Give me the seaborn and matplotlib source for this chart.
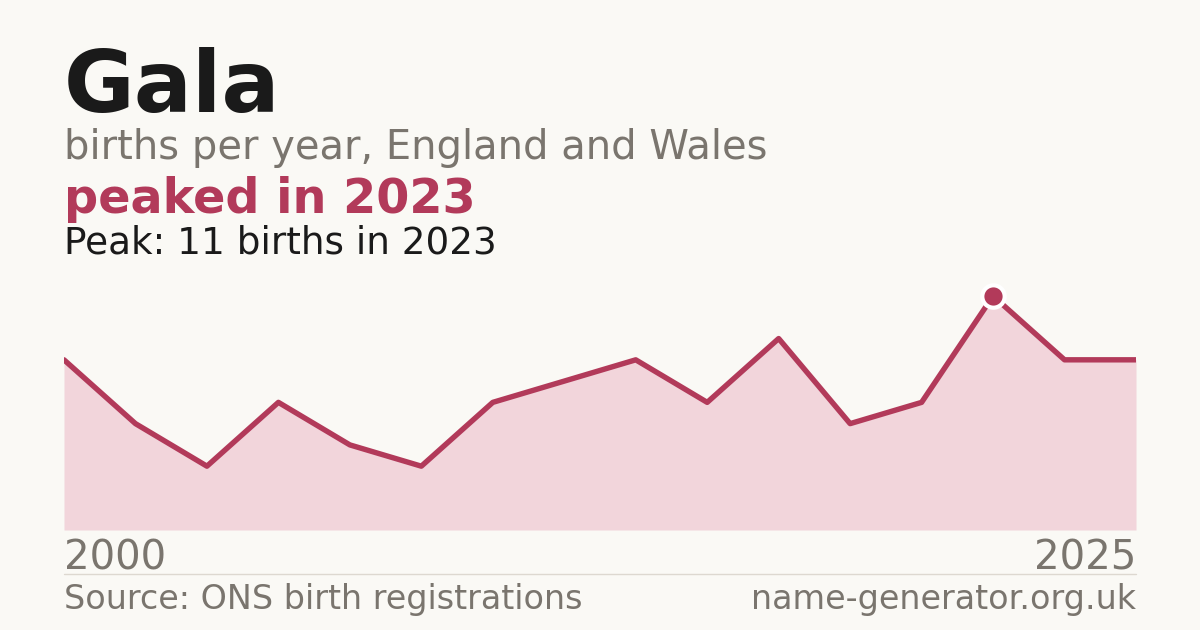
import seaborn as sns
import matplotlib.pyplot as plt
import pandas as pd

# births per year (points in order, first = 2000, last = 2025)
births = [8, 5, 3, 6, 4, 3, 6, 7, 8, 6, 9, 5, 6, 11, 8, 8]
x_labels = ["2000", "2025"]
peak_year = 2023
name = "Gala"

BG = "#faf9f5"
RED = "#b23a5a"
FILL = "#f2d5db"
GREY = "#7a756e"
DARK = "#1a1a1a"

sns.set_theme(style="white")
plt.rcParams["font.family"] = ["DejaVu Sans"]

W, H = 1200, 630
fig = plt.figure(figsize=(12, 6.3), dpi=100, facecolor=BG)

def fx(px):
    return px / W

def fy(py):
    return 1 - py / H

ymax = 12.1
peak_val = max(births)
top_px = 530 - (530 - 296) * ymax / peak_val
ax = fig.add_axes([fx(64), fy(530), fx(1136) - fx(64), fy(top_px) - fy(530)])
ax.set_facecolor(BG)

df = pd.DataFrame({"i": range(len(births)), "births": births})
ax.fill_between(df["i"], 0, df["births"], color=FILL, linewidth=0)
sns.lineplot(data=df, x="i", y="births", ax=ax, color=RED, linewidth=3.9)

pk = df["births"].idxmax()
ax.scatter([df.loc[pk, "i"]], [df.loc[pk, "births"]], s=260, color=RED,
           edgecolor="white", linewidth=3, zorder=5)

ax.set_xlim(0, len(births) - 1)
ax.set_ylim(0, ymax)
ax.axis("off")

fig.text(fx(64), fy(112), name, fontsize=62, fontweight="bold", color=DARK, va="baseline")
fig.text(fx(64), fy(159), "births per year, England and Wales", fontsize=28.8,
         color=GREY, va="baseline")
fig.text(fx(64), fy(213), f"peaked in {peak_year}", fontsize=34.4, fontweight="bold",
         color=RED, va="baseline")
fig.text(fx(64), fy(253), f"Peak: {peak_val} births in {peak_year}", fontsize=26.9,
         color=DARK, va="baseline")

fig.text(fx(64), fy(570), x_labels[0], fontsize=29, color=GREY, va="baseline")
fig.text(fx(1136), fy(570), x_labels[1], fontsize=29, color=GREY, va="baseline", ha="right")

fig.add_artist(plt.Line2D([fx(64), fx(1136)], [fy(574), fy(574)], color="#ddd8d0", linewidth=1))

fig.text(fx(64), fy(609), "Source: ONS birth registrations", fontsize=24, color=GREY, va="baseline")
fig.text(fx(1136), fy(609), "name-generator.org.uk", fontsize=24, color=GREY,
         va="baseline", ha="right")

fig.savefig("out.png", dpi=100, facecolor=BG)
